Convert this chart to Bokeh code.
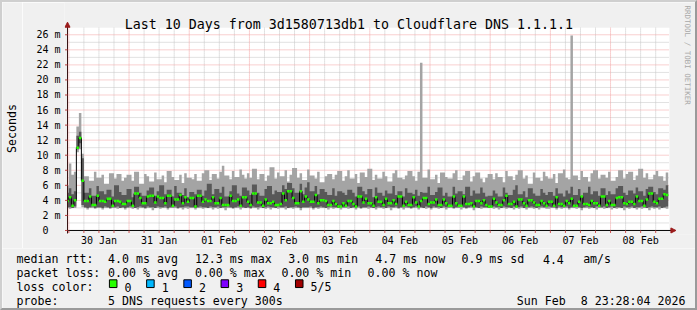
from math import pi
from bokeh.plotting import figure
from bokeh.layouts import column, row
from bokeh.models import Range1d, FixedTicker
from bokeh.core.properties import value
from bokeh.embed import file_html
from bokeh.resources import INLINE

# ---------------- data (hourly bins, hour 0 = 29 Jan 23:00) ----------------
hi = [6.0, 8.9, 7.4, 7.8, 13.8, 15.6, 10.2, 7.2, 7.2, 6.6, 6.6, 7.8, 7.0, 7.0, 7.4, 6.2, 6.2, 7.6, 7.6, 6.9, 7.5, 7.5, 6.6, 7.0,
      7.4, 7.4, 6.6, 7.8, 7.8, 6.2, 6.2, 7.5, 7.2, 6.5, 6.5, 7.7, 6.8, 6.8, 7.3, 6.4, 7.9, 7.9, 7.1, 6.7, 6.7, 7.4, 6.3, 7.6,
      7.0, 7.0, 6.8, 7.5, 6.6, 6.6, 7.6, 8.0, 8.0, 6.7, 7.5, 7.5, 6.9, 7.8, 8.6, 7.3, 7.3, 6.8, 7.9, 7.1, 7.1, 8.1, 7.4, 6.9,
      7.6, 7.0, 8.2, 8.2, 6.8, 7.5, 7.5, 6.6, 7.3, 8.4, 8.4, 6.9, 7.7, 7.2, 7.2, 8.0, 6.5, 7.4, 8.3, 8.3, 7.0, 7.6, 6.7, 6.7,
      8.1, 7.3, 7.3, 6.9, 7.8, 6.4, 6.4, 7.2, 7.5, 7.5, 6.8, 7.4, 7.9, 7.9, 6.6, 7.2, 8.0, 6.9, 6.9, 7.5, 6.3, 7.7, 7.7, 7.1,
      8.2, 8.2, 6.7, 7.4, 6.9, 6.9, 7.8, 7.2, 6.5, 6.5, 7.6, 8.0, 7.0, 7.0, 6.8, 7.3, 7.9, 7.9, 7.2, 6.6, 7.8, 22.3, 7.0, 7.0,
      8.1, 6.8, 6.8, 7.4, 6.3, 7.7, 7.7, 7.1, 6.9, 6.9, 7.6, 8.0, 6.7, 6.7, 7.3, 7.9, 7.9, 6.5, 7.2, 7.7, 7.7, 6.9, 6.4, 7.0,
      7.5, 7.5, 6.8, 7.6, 7.1, 7.1, 6.4, 7.9, 7.2, 7.2, 6.7, 7.4, 8.0, 8.0, 6.9, 7.3, 6.2, 6.2, 7.7, 7.0, 7.0, 6.6, 7.8, 7.2,
      6.9, 6.9, 7.5, 6.3, 7.6, 7.6, 8.1, 7.0, 6.8, 25.9, 7.3, 7.3, 6.7, 7.9, 7.1, 7.1, 6.5, 7.6, 8.0, 8.0, 6.9, 7.4, 7.4, 7.0,
      7.8, 6.6, 6.6, 7.1, 8.0, 8.0, 6.9, 7.5, 7.8, 7.8, 6.7, 7.3, 8.2, 8.2, 7.0, 7.6, 6.8, 6.8, 7.4, 7.9, 7.2, 7.2, 6.6, 7.7]

p4 = [5.0, 5.6, 4.8, 5.2, 12.6, 13.1, 9.6, 5.0, 5.0, 5.6, 4.6, 4.6, 5.9, 5.2, 5.2, 4.8, 5.4, 5.4, 4.5, 6.0, 6.0, 5.1, 4.7, 4.7,
      5.5, 5.5, 4.4, 5.8, 5.8, 5.0, 4.6, 4.6, 5.3, 5.7, 5.7, 4.6, 5.2, 6.0, 6.0, 4.8, 5.4, 5.4, 4.5, 5.9, 5.0, 5.0, 4.7, 5.6,
      4.4, 5.1, 5.1, 4.8, 5.4, 5.4, 4.6, 5.3, 6.2, 6.2, 4.8, 5.5, 5.5, 5.0, 5.8, 4.5, 4.5, 5.2, 6.0, 6.0, 4.9, 4.6, 5.7, 5.7,
      5.3, 4.7, 6.1, 6.1, 5.0, 4.6, 4.6, 5.5, 5.9, 5.9, 4.8, 5.3, 5.1, 5.1, 6.0, 5.5, 6.3, 6.3, 5.6, 5.0, 5.0, 6.2, 4.8, 5.7,
      6.4, 5.2, 5.2, 5.9, 4.8, 5.5, 5.5, 5.1, 4.7, 4.7, 5.6, 4.6, 5.2, 5.2, 5.0, 4.7, 5.4, 5.4, 5.0, 4.5, 5.8, 5.8, 5.2, 4.8,
      5.5, 5.5, 4.4, 5.7, 5.0, 5.0, 4.6, 5.3, 4.9, 4.9, 5.9, 4.7, 5.2, 5.2, 4.5, 5.6, 5.0, 5.0, 4.8, 5.4, 4.6, 5.1, 5.0, 5.0,
      5.8, 4.7, 4.7, 5.1, 5.7, 5.7, 4.6, 5.0, 4.5, 4.5, 5.8, 4.9, 5.2, 5.2, 4.8, 5.8, 5.8, 4.6, 5.3, 4.9, 4.9, 5.7, 5.0, 4.5,
      4.6, 4.6, 5.3, 4.9, 4.5, 4.5, 5.7, 5.0, 4.7, 4.7, 5.4, 6.0, 4.8, 4.8, 5.2, 4.4, 5.6, 5.6, 4.9, 4.6, 4.6, 5.5, 5.0, 4.7,
      5.1, 5.1, 4.6, 5.6, 4.9, 4.9, 4.5, 5.3, 4.9, 5.8, 4.7, 4.7, 5.5, 4.6, 5.0, 5.0, 5.8, 4.8, 5.2, 5.2, 4.6, 5.6, 5.6, 4.7,
      5.2, 4.8, 4.8, 5.6, 5.9, 5.9, 5.0, 4.7, 5.3, 5.3, 4.9, 5.7, 5.2, 5.2, 4.6, 5.5, 5.8, 5.8, 5.1, 4.8, 5.6, 5.6, 5.4, 6.0]

median = [3.9, 4.4, 3.3, 4.0, 11.0, 12.3, 6.6, 3.9, 3.9, 4.5, 3.4, 3.4, 4.6, 3.9, 3.9, 3.8, 4.2, 4.2, 3.3, 3.9, 3.9, 3.8, 3.5, 3.5,
          3.9, 3.9, 3.3, 4.9, 4.9, 4.3, 3.6, 3.6, 4.5, 4.6, 4.6, 3.7, 4.5, 4.3, 4.3, 3.6, 4.6, 4.6, 3.3, 4.1, 4.1, 4.7, 3.6, 4.4,
          3.8, 4.3, 4.3, 3.2, 4.6, 4.6, 3.8, 4.1, 3.9, 3.9, 4.4, 3.6, 3.6, 4.3, 3.4, 3.4, 3.4, 4.6, 3.9, 3.9, 4.1, 3.3, 4.4, 4.4,
          3.8, 3.4, 4.9, 4.9, 3.7, 3.7, 3.3, 4.1, 3.6, 3.6, 3.8, 3.4, 3.4, 3.5, 4.9, 4.0, 5.2, 5.2, 4.3, 3.6, 3.6, 5.2, 3.8, 4.5,
          4.1, 3.8, 3.8, 4.7, 3.6, 4.0, 4.0, 3.9, 3.4, 3.4, 3.9, 3.5, 3.2, 3.2, 3.6, 3.3, 3.9, 3.9, 3.5, 3.2, 4.5, 4.5, 3.7, 4.2,
          3.6, 3.6, 3.3, 4.4, 3.8, 3.8, 3.4, 4.2, 3.6, 3.6, 4.0, 3.5, 4.5, 4.5, 3.3, 3.8, 3.4, 3.4, 4.4, 3.7, 3.2, 3.9, 4.3, 4.3,
          3.5, 3.7, 3.7, 4.1, 3.4, 3.4, 4.1, 3.6, 3.3, 3.3, 4.5, 3.6, 3.3, 3.3, 4.5, 3.5, 3.5, 3.6, 3.2, 3.9, 3.9, 3.6, 4.0, 3.4,
          3.2, 3.2, 4.2, 3.7, 3.4, 3.4, 4.0, 4.6, 3.5, 3.5, 3.8, 3.2, 4.1, 4.1, 3.6, 3.3, 4.0, 4.0, 3.7, 3.4, 3.4, 3.9, 3.6, 3.3,
          3.8, 3.8, 3.3, 4.4, 3.5, 3.5, 3.3, 3.9, 3.6, 4.2, 3.3, 3.3, 3.8, 4.5, 3.5, 3.5, 3.4, 3.9, 3.6, 3.6, 3.3, 4.5, 4.5, 3.4,
          3.9, 3.4, 3.4, 4.3, 4.4, 4.4, 3.6, 3.5, 3.8, 3.8, 3.5, 4.5, 3.9, 3.9, 3.3, 4.1, 4.9, 4.9, 3.8, 3.6, 4.2, 4.2, 4.8, 4.7]

p2 = [3.1, 3.1, 3.0, 3.2, 10.8, 11.6, 3.4, 3.1, 3.0, 3.1, 3.2, 3.0, 3.1, 3.1, 3.0, 3.2, 3.1, 3.0, 3.1, 3.1, 3.2, 3.0, 3.1, 3.0,
      3.1, 3.2, 3.1, 3.0, 3.1, 3.2, 3.1, 3.0, 3.2, 3.1, 3.1, 3.0, 3.2, 3.1, 3.1, 3.2, 3.0, 3.1, 3.1, 3.2, 3.0, 3.1, 3.1, 3.2,
      3.2, 3.1, 3.1, 3.0, 3.1, 3.2, 3.1, 3.1, 3.0, 3.2, 3.1, 3.1, 3.2, 3.0, 3.1, 3.1, 3.2, 3.1, 3.0, 3.1, 3.2, 3.1, 3.1, 3.0,
      3.1, 3.0, 3.2, 3.1, 3.1, 3.2, 3.0, 3.1, 3.2, 3.1, 3.1, 3.0, 3.2, 3.1, 3.1, 3.2, 3.0, 3.1, 3.1, 3.2, 3.1, 3.0, 3.1, 3.1,
      3.1, 3.2, 3.0, 3.1, 3.1, 3.2, 3.1, 3.0, 3.1, 3.2, 3.1, 3.1, 3.0, 3.2, 3.1, 3.1, 3.2, 3.0, 3.1, 3.1, 3.2, 3.0, 3.1, 3.1,
      3.2, 3.1, 3.0, 3.1, 3.2, 3.1, 3.1, 3.0, 3.2, 3.1, 3.1, 3.2, 3.0, 3.1, 3.1, 3.2, 3.1, 3.0, 3.1, 3.2, 3.1, 3.1, 3.0, 3.2,
      3.1, 3.0, 3.2, 3.1, 3.1, 3.0, 3.2, 3.1, 3.1, 3.2, 3.0, 3.1, 3.1, 3.2, 3.1, 3.0, 3.1, 3.2, 3.1, 3.1, 3.0, 3.2, 3.1, 3.1,
      3.0, 3.1, 3.2, 3.1, 3.1, 3.0, 3.2, 3.1, 3.1, 3.0, 3.2, 3.1, 3.1, 3.2, 3.0, 3.1, 3.1, 3.2, 3.1, 3.0, 3.1, 3.2, 3.1, 3.1,
      3.2, 3.1, 3.1, 3.0, 3.2, 3.1, 3.1, 3.2, 3.0, 3.1, 3.1, 3.2, 3.1, 3.0, 3.1, 3.2, 3.1, 3.1, 3.0, 3.2, 3.1, 3.1, 3.2, 3.0,
      3.1, 3.2, 3.0, 3.1, 3.1, 3.0, 3.2, 3.1, 3.1, 3.2, 3.0, 3.1, 3.1, 3.2, 3.1, 3.0, 3.1, 3.2, 3.1, 3.1, 3.2, 3.0, 3.1, 3.2]

lo = [3.0, 2.9, 3.0, 3.0, 10.4, 10.8, 3.1, 3.0, 2.8, 3.0, 3.0, 2.9, 3.0, 3.0, 2.8, 3.0, 3.0, 2.9, 3.0, 3.0, 2.9, 3.0, 3.0, 2.8,
      3.0, 3.0, 2.9, 3.0, 2.8, 3.0, 3.0, 2.9, 3.0, 3.0, 2.7, 3.0, 3.0, 2.9, 3.0, 3.0, 2.8, 3.0, 3.0, 3.0, 2.9, 3.0, 2.8, 3.0,
      2.9, 3.0, 3.0, 2.8, 3.0, 3.0, 2.9, 3.0, 3.0, 3.0, 2.8, 3.0, 2.9, 3.0, 3.0, 2.7, 3.0, 3.0, 2.9, 3.0, 3.0, 2.8, 3.0, 3.0,
      3.0, 2.9, 3.0, 3.0, 2.8, 3.0, 3.0, 2.9, 3.0, 2.8, 3.0, 3.0, 2.9, 3.0, 3.0, 2.8, 3.0, 3.0, 2.9, 3.0, 3.0, 2.7, 3.0, 3.0,
      3.0, 3.0, 2.8, 3.0, 2.9, 3.0, 3.0, 3.0, 2.8, 3.0, 2.9, 3.0, 3.0, 2.8, 3.0, 3.0, 2.9, 3.0, 3.0, 2.8, 3.0, 2.9, 3.0, 3.0,
      2.9, 3.0, 3.0, 2.8, 3.0, 3.0, 2.9, 3.0, 3.0, 2.7, 3.0, 3.0, 2.9, 3.0, 2.8, 3.0, 3.0, 2.9, 3.0, 3.0, 2.8, 3.0, 3.0, 2.9,
      3.0, 2.8, 3.0, 3.0, 2.9, 3.0, 3.0, 2.8, 3.0, 3.0, 2.9, 3.0, 3.0, 2.8, 3.0, 2.9, 3.0, 3.0, 2.7, 3.0, 3.0, 2.9, 3.0, 3.0,
      3.0, 3.0, 2.9, 3.0, 2.8, 3.0, 3.0, 2.9, 3.0, 3.0, 2.8, 3.0, 2.9, 3.0, 3.0, 2.8, 3.0, 3.0, 2.9, 3.0, 2.8, 3.0, 3.0, 2.9,
      2.9, 3.0, 3.0, 2.8, 3.0, 2.9, 3.0, 3.0, 2.8, 3.0, 3.0, 2.9, 3.0, 2.7, 3.0, 3.0, 2.9, 3.0, 3.0, 2.8, 3.0, 3.0, 2.9, 3.0,
      3.0, 2.8, 3.0, 2.9, 3.0, 3.0, 2.7, 3.0, 2.9, 3.0, 3.0, 2.8, 3.0, 2.9, 3.0, 3.0, 2.7, 3.0, 2.9, 3.0, 2.8, 3.0, 3.0, 2.9]

day_labels = ["30 Jan", "31 Jan", "01 Feb", "02 Feb", "03 Feb", "04 Feb", "05 Feb", "06 Feb", "07 Feb", "08 Feb"]
y_ticks = [0, 2, 4, 6, 8, 10, 12, 14, 16, 18, 20, 22, 24, 26]
y_labels = ["0\u00a0\u00a0"] + ["%d m" % v for v in y_ticks[1:]]
loss_colors = ["#26ff00", "#00b8ff", "#0059ff", "#7e00ff", "#ff0000", "#a10000"]
loss_names = ["0", "1", "2", "3", "4", "5/5"]
title_text = "Last 10 Days from 3d1580713db1 to Cloudflare DNS 1.1.1.1"
legend_rows = [
    ["median rtt:", "4.0 ms avg", "12.3 ms max", "3.0 ms min", "4.7 ms now", "0.9 ms sd", "4.4", "am/s"],
    ["packet loss:", "0.00 % avg", "0.00 % max", "0.00 % min", "0.00 % now"],
    ["loss color:"],
    ["probe:", "5 DNS requests every 300s", "Sun Feb"],
]
date_tail = "8 23:28:04 2026"

for arr in (hi, p4, median, p2, lo):
    if len(arr) != 240:
        raise SystemExit("bad length %d" % len(arr))

# ---------------- geometry (page pixels) ----------------
FONT = "DejaVu Sans Mono"
XSTART = -(31 * 60 + 56) / 3600.0      # 29 Jan 23:28:04, hours from 30 Jan 00:00
XPLOT_END = XSTART + 240.0
KX = 2.5                                # px per hour
KY = 194.0 / 26.0                       # px per ms
X0PX, Y0PX = 67.0, 228.0                # page pixel of (XSTART, 0)
SEC_W = 22                              # width of the strip holding the "Seconds" label

def px2x(px):
    return XSTART + (px - X0PX) / KX

def py2y(py):
    return (Y0PX - py) / KY

YMAX = py2y(27)
bevel = "#cfcfcf #9a9a9a #9a9a9a #cfcfcf"

# ---------------- left strip with the y axis title ----------------
sec = figure(width=SEC_W, height=248, output_backend="svg", toolbar_location=None, title=None,
             x_range=Range1d(2, SEC_W), y_range=Range1d(-248, -2),
             x_axis_type=None, y_axis_type=None,
             min_border_left=0, min_border_right=0, min_border_top=0, min_border_bottom=0,
             background_fill_color="#f0f0f0", border_fill_color="#f0f0f0", outline_line_color=None)
sec.styles = {"border-style": "solid", "border-width": "2px 0px 0px 2px", "border-color": bevel}
sec.grid.visible = False
sec.text(x=[10.4], y=[-127], text=["Seconds"], text_font=value(FONT), text_font_size="11.6px",
         text_align="center", text_baseline="middle", angle=pi / 2, text_color="#000000")

# ---------------- main chart ----------------
p = figure(width=697 - SEC_W, height=248, output_backend="svg", toolbar_location=None, title=None,
           x_range=Range1d(px2x(64), px2x(695)), y_range=Range1d(py2y(232), py2y(2)),
           min_border_left=64 - SEC_W, min_border_right=0, min_border_top=0, min_border_bottom=16,
           background_fill_color="#f0f0f0", border_fill_color="#f0f0f0",
           outline_line_color=None)
p.styles = {"border-style": "solid", "border-width": "2px 2px 0px 0px", "border-color": bevel}

# white plot area
p.quad(left=[XSTART], right=[XPLOT_END], bottom=[0], top=[YMAX], fill_color="white", line_color=None)

# grid (rrdtool style dotted lines)
midnights = [24 * k for k in range(10)]
noons = [12 + 24 * k for k in range(10)]
six_h = [6 * k for k in range(40) if k % 4 != 0]
all_six = [6 * k for k in range(40)]
minor_y = list(range(1, 27, 2))
major_y = y_ticks[1:]
p.segment(x0=six_h, x1=six_h, y0=[0] * len(six_h), y1=[YMAX] * len(six_h),
          line_color="#c4c4c4", line_dash="1 1", line_width=1)
p.segment(x0=[XSTART] * len(minor_y), x1=[XPLOT_END] * len(minor_y), y0=minor_y, y1=minor_y,
          line_color="#c4c4c4", line_dash="1 1", line_width=1)
p.segment(x0=midnights, x1=midnights, y0=[0] * 10, y1=[YMAX] * 10,
          line_color="#f2a0a0", line_dash="1 1", line_width=1)
p.segment(x0=[XSTART] * len(major_y), x1=[XPLOT_END] * len(major_y), y0=major_y, y1=major_y,
          line_color="#f2a0a0", line_dash="1 1", line_width=1)

# smoke + median
starts = [max(h - 1, XSTART) for h in range(240)]
ends = [h for h in range(240)]
sx = starts + [ends[-1]]

def ext(a):
    return list(a) + [a[-1]]

p.varea_step(x=sx, y1=ext(lo), y2=ext(hi), step_mode="after", fill_color="#a4a4a4")
p.varea_step(x=sx, y1=ext(p2), y2=ext(p4), step_mode="after", fill_color="#585858")
p.step(x=sx, y=ext(median), mode="after", line_color="#000000", line_width=1)
p.segment(x0=starts, x1=ends, y0=median, y1=median, line_color=loss_colors[0], line_width=2.5)

# axis lines, small ticks and arrows (rrdtool look)
p.segment(x0=[XSTART], x1=[px2x(669)], y0=[0], y1=[0], line_color="#000000", line_width=1)
p.segment(x0=[XSTART], x1=[XSTART], y0=[py2y(231)], y1=[py2y(25)], line_color="#3a1414", line_width=1)
p.segment(x0=all_six, x1=all_six, y0=[0] * 40, y1=[py2y(230.5)] * 40, line_color="#d05050", line_width=1)
p.segment(x0=[px2x(64.5)] * len(y_ticks), x1=[XSTART] * len(y_ticks), y0=y_ticks, y1=y_ticks,
          line_color="#c04040", line_width=1)
p.patch(x=[px2x(673.5), px2x(668.5), px2x(668.5)], y=[0, py2y(225.5), py2y(230.5)],
        fill_color="#9b1c1c", line_color="#9b1c1c")
p.patch(x=[XSTART, px2x(64.5), px2x(69.5)], y=[py2y(21.5), py2y(26.5), py2y(26.5)],
        fill_color="#9b1c1c", line_color="#9b1c1c")

# title and side credit
p.text(x=[px2x(347.5)], y=[py2y(24)], text=[title_text], text_font=value(FONT), text_font_size="13.3px",
       text_align="center", text_baseline="alphabetic", text_color="#000000")
p.text(x=[px2x(685)], y=[py2y(5)], text=["RRDTOOL / TOBI OETIKER"], text_font=value(FONT),
       text_font_size="7.5px", text_align="left", text_baseline="middle", angle=-pi / 2,
       text_color="#a8a8a8")

# axes (library axes; lines drawn above)
xa = p.xaxis[0]
xa.ticker = FixedTicker(ticks=noons, minor_ticks=[])
xa.major_label_overrides = {n: l for n, l in zip(noons, day_labels)}
xa.major_tick_line_color = None
xa.minor_tick_line_color = None
xa.major_tick_out = 0
xa.major_tick_in = 0
xa.axis_line_color = None
xa.major_label_standoff = 0

ya = p.yaxis[0]
ya.ticker = FixedTicker(ticks=y_ticks, minor_ticks=[])
ya.major_label_overrides = {t: l for t, l in zip(y_ticks, y_labels)}
ya.major_tick_line_color = None
ya.minor_tick_line_color = None
ya.major_tick_out = 0
ya.major_tick_in = 0
ya.axis_line_color = None
ya.major_label_standoff = 4

for ax in (xa, ya):
    ax.major_label_text_font = FONT
    ax.major_label_text_font_size = "10px"
    ax.major_label_text_color = "#000000"

p.xgrid.visible = False
p.ygrid.visible = False

# ---------------- legend block (page pixel coordinates) ----------------
lg = figure(width=697, height=62, output_backend="svg", toolbar_location=None, title=None,
            x_range=Range1d(2, 695), y_range=Range1d(308, 248),
            x_axis_type=None, y_axis_type=None,
            min_border_left=0, min_border_right=0, min_border_top=0, min_border_bottom=0,
            background_fill_color="#f0f0f0", border_fill_color="#f0f0f0", outline_line_color=None)
lg.styles = {"border-style": "solid", "border-width": "0px 2px 2px 2px", "border-color": bevel}
lg.grid.visible = False

for fig in (sec, p, lg):
    if "frame_align" in fig.properties():
        fig.frame_align = False

row_base = [258.2, 271.8, 285.4, 299.0]
row_x = [
    [16, 107, 193.3, 286, 372.7, 458.3, 539.3, 579.3],
    [16, 107, 193.3, 279.3, 365],
    [16],
    [16, 107, 513.3],
]
tx, ty, tt = [], [], []
for base, xs, items in zip(row_base, row_x, legend_rows):
    for xx, s in zip(xs, items):
        tx.append(xx)
        ty.append(base)
        tt.append(s)
box_left = [108.3 + 37 * i for i in range(6)]
for bx, n in zip(box_left, loss_names):
    tx.append(bx + 15)
    ty.append(row_base[2])
    tt.append(n)
lg.text(x=tx, y=ty, text=tt, text_font=value(FONT), text_font_size="11.6px",
        text_align="left", text_baseline="alphabetic", text_color="#000000")
lg.text(x=[681], y=[row_base[3]], text=[date_tail], text_font=value(FONT), text_font_size="11.6px",
        text_align="right", text_baseline="alphabetic", text_color="#000000")
lg.quad(left=box_left, right=[b + 7.5 for b in box_left], top=[278.3] * 6, bottom=[285.8] * 6,
        fill_color=loss_colors, line_color="#000000", line_width=1)

layout = column(row(sec, p, spacing=0), lg, spacing=0)
open("out.html", "w").write(file_html(layout, INLINE))
